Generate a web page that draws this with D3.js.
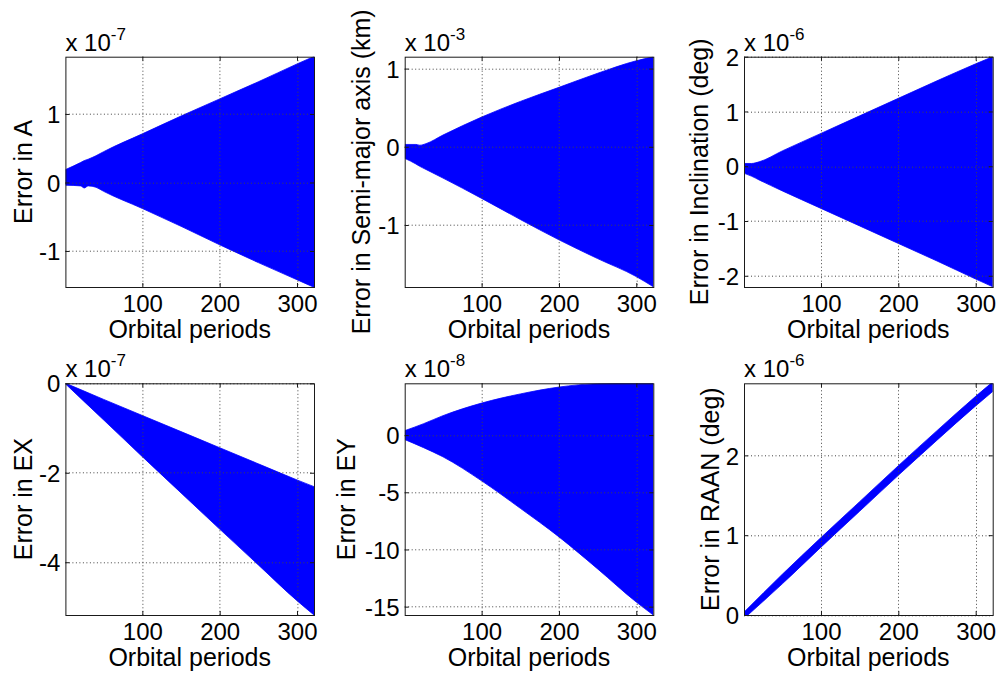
<!DOCTYPE html>
<html>
<head>
<meta charset="utf-8">
<script src="https://cdn.jsdelivr.net/npm/d3@7"></script>
<style>
  html, body { margin: 0; padding: 0; background: #fff; }
  svg { display: block; font-family: "Liberation Sans", Arial, Helvetica, sans-serif; }
</style>
</head>
<body>
<svg id="chart" width="1001" height="675"></svg>
<script>
// Orbital-element propagation errors over ~320 orbital periods.
// Each series is the envelope (max / min) of a rapidly oscillating error signal.

const xTicks = [100, 200, 300];

// Error in A (x 1e-7)
const aPeriods = [1, 20, 25, 30, 40, 50, 100, 150, 200, 250, 300, 322];
const aUpper   = [0.19, 0.29, 0.32, 0.34, 0.39, 0.45, 0.71, 0.97, 1.22, 1.47, 1.73, 1.84];
const aLower   = [-0.04, -0.05, -0.08, -0.05, -0.07, -0.13, -0.38, -0.64, -0.91, -1.17, -1.42, -1.53];
const aTicks   = [-1, 0, 1];

// Error in semi-major axis, km (x 1e-3)
const smaPeriods = [1, 15, 20, 28, 50, 100, 150, 200, 250, 300, 322];
const smaUpper   = [0.03, 0.03, 0.02, 0.04, 0.15, 0.38, 0.58, 0.76, 0.94, 1.10, 1.15];
const smaLower   = [-0.15, -0.22, -0.25, -0.29, -0.40, -0.66, -0.93, -1.19, -1.43, -1.66, -1.79];
const smaTicks   = [-1, 0, 1];

// Error in inclination, deg (x 1e-6)
const incPeriods = [1, 10, 20, 50, 100, 150, 200, 250, 300, 322];
const incUpper   = [0.05, 0.05, 0.08, 0.28, 0.60, 0.92, 1.24, 1.56, 1.87, 2.00];
const incLower   = [-0.13, -0.18, -0.25, -0.45, -0.77, -1.09, -1.41, -1.73, -2.06, -2.20];
const incTicks   = [-2, -1, 0, 1, 2];

// Error in EX (x 1e-7)
const exPeriods = [1, 50, 100, 150, 200, 250, 300, 322];
const exUpper   = [0.00, -0.36, -0.72, -1.08, -1.44, -1.80, -2.16, -2.31];
const exLower   = [-0.02, -0.82, -1.64, -2.45, -3.26, -4.06, -4.86, -5.18];
const exTicks   = [-4, -2, 0];

// Error in EY (x 1e-8)
const eyPeriods = [1, 25, 50, 100, 150, 200, 250, 300, 322];
const eyUpper   = [0.40, 1.00, 1.70, 2.80, 3.60, 4.20, 4.50, 4.53, 4.53];
const eyLower   = [-0.40, -1.10, -1.90, -4.00, -6.40, -8.90, -11.70, -14.60, -15.73];
const eyTicks   = [-15, -10, -5, 0];

// Error in RAAN, deg (x 1e-6)
const raanPeriods = [1, 50, 100, 150, 200, 250, 300, 322];
const raanUpper   = [0.04, 0.51, 0.97, 1.42, 1.87, 2.31, 2.74, 2.92];
const raanLower   = [-0.04, 0.39, 0.85, 1.30, 1.75, 2.19, 2.62, 2.80];
const raanTicks   = [0, 1, 2];

const panels = [
  { label: "Error in A", exp: "-7", periods: aPeriods, upper: aUpper, lower: aLower, ticks: aTicks,
    yDomain: [-1.526, 1.836], box: [65.4, 56.7, 314.0, 287.0], labelOff: 33.7 },
  { label: "Error in Semi-major axis (km)", exp: "-3", periods: smaPeriods, upper: smaUpper, lower: smaLower, ticks: smaTicks,
    yDomain: [-1.793, 1.152], box: [404.7, 56.7, 653.3, 287.0], labelOff: 35 },
  { label: "Error in Inclination (deg)", exp: "-6", periods: incPeriods, upper: incUpper, lower: incLower, ticks: incTicks,
    yDomain: [-2.205, 2.0], box: [744.0, 56.7, 992.7, 287.0], labelOff: 36 },
  { label: "Error in EX", exp: "-7", periods: exPeriods, upper: exUpper, lower: exLower, ticks: exTicks,
    yDomain: [-5.18, 0], box: [65.4, 383.3, 314.0, 615.0], labelOff: 33.7 },
  { label: "Error in EY", exp: "-8", periods: eyPeriods, upper: eyUpper, lower: eyLower, ticks: eyTicks,
    yDomain: [-15.73, 4.53], box: [404.7, 383.3, 653.3, 615.0], labelOff: 49.7 },
  { label: "Error in RAAN (deg)", exp: "-6", periods: raanPeriods, upper: raanUpper, lower: raanLower, ticks: raanTicks,
    yDomain: [0, 2.903], box: [744.0, 383.3, 992.7, 615.0], labelOff: 24.7 }
];

const xDomain = [0.5, 322];
const svg = d3.select("#chart");
const axisColor = "#1a1a1a";
const gridColor = "#444";
const fillColor = "#0000ff";
const tickFont = 24, labelFont = 25, expFont = 17;

panels.forEach((p, i) => {
  const [x0, y0, x1, y1] = p.box;
  const w = x1 - x0, h = y1 - y0;
  const x = d3.scaleLinear().domain(xDomain).range([0, w]);
  const y = d3.scaleLinear().domain(p.yDomain).range([h, 0]);

  const g = svg.append("g").attr("transform", `translate(${x0},${y0})`);

  const clipId = "clip" + i;
  g.append("clipPath").attr("id", clipId)
    .append("rect").attr("width", w).attr("height", h);

  // Envelope of the oscillating error
  const rows = p.periods.map((t, k) => ({ t, hi: p.upper[k], lo: p.lower[k] }));
  const area = d3.area()
    .curve(d3.curveMonotoneX)
    .x(d => x(d.t))
    .y0(d => y(d.lo))
    .y1(d => y(d.hi));
  g.append("path")
    .datum(rows)
    .attr("clip-path", `url(#${clipId})`)
    .attr("d", area)
    .attr("fill", fillColor)
    .attr("stroke", fillColor)
    .attr("stroke-width", 0.8);

  // Dotted grid
  const grid = g.append("g").attr("stroke", gridColor).attr("stroke-width", 1)
    .attr("stroke-dasharray", "1,2.5").attr("fill", "none");
  xTicks.forEach(t => {
    grid.append("line").attr("x1", Math.round(x(t)) + 0.5).attr("x2", Math.round(x(t)) + 0.5)
      .attr("y1", 0).attr("y2", h);
  });
  p.ticks.forEach(t => {
    grid.append("line").attr("y1", Math.round(y(t)) + 0.5).attr("y2", Math.round(y(t)) + 0.5)
      .attr("x1", 0).attr("x2", w);
  });

  // Axes with ticks drawn inward, mirrored on top and right
  const tl = 4;
  const xAxis = d3.axisBottom(x).tickValues(xTicks).tickSize(-tl).tickPadding(tl + 5).tickFormat(d3.format("d"));
  const gx = g.append("g").attr("transform", `translate(0,${h})`).call(xAxis);
  const yAxis = d3.axisLeft(y).tickValues(p.ticks).tickSize(-tl).tickPadding(tl + 5).tickFormat(d => d3.format("d")(d).replace("−", "-"));
  const gy = g.append("g").call(yAxis);
  g.append("g").call(d3.axisTop(x).tickValues(xTicks).tickSize(-tl).tickFormat(""));
  g.append("g").attr("transform", `translate(${w},0)`).call(d3.axisRight(y).tickValues(p.ticks).tickSize(-tl).tickFormat(""));

  g.selectAll(".domain").remove();
  g.selectAll(".tick line").attr("stroke", axisColor);
  gx.selectAll("text").attr("font-size", tickFont).attr("fill", "#000")
    .attr("font-family", "Liberation Sans, Arial, sans-serif").attr("dy", null)
    .attr("y", 24.7).attr("dominant-baseline", "alphabetic");
  gy.selectAll("text").attr("font-size", tickFont).attr("fill", "#000")
    .attr("font-family", "Liberation Sans, Arial, sans-serif")
    .attr("x", -5).attr("dy", "0.36em");

  // Axes box
  g.append("rect").attr("x", 0.5).attr("y", 0.5).attr("width", w).attr("height", h)
    .attr("fill", "none").attr("stroke", axisColor).attr("stroke-width", 1);

  // Axis titles
  g.append("text")
    .attr("x", w / 2).attr("y", h + 51)
    .attr("text-anchor", "middle").attr("font-size", labelFont).attr("fill", "#000")
    .text("Orbital periods");
  g.append("text")
    .attr("transform", `translate(${-p.labelOff},${h / 2}) rotate(-90)`)
    .attr("text-anchor", "middle").attr("font-size", labelFont).attr("fill", "#000")
    .text(p.label);

  // Exponent multiplier
  const ex = g.append("text").attr("x", 0).attr("y", -6.2).attr("font-size", tickFont).attr("fill", "#000");
  ex.append("tspan").text("x 10");
  ex.append("tspan").attr("font-size", expFont).attr("dy", -11).text(p.exp);
});
</script>
</body>
</html>
